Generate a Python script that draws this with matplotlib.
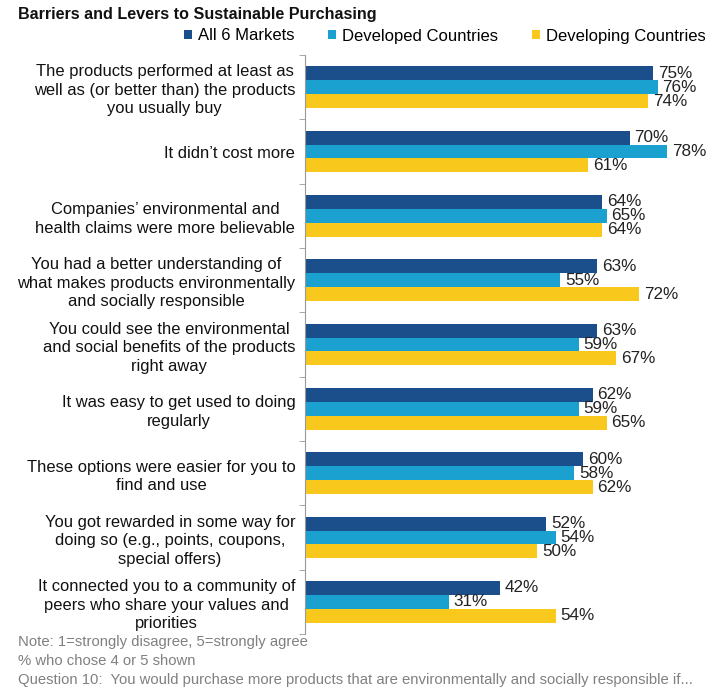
import matplotlib
matplotlib.use("Agg")
import matplotlib.pyplot as plt
import numpy as np

plt.rcParams['font.family'] = ['Liberation Sans', 'DejaVu Sans']

categories = [
    "The products performed at least as\nwell as (or better than) the products\nyou usually buy",
    "It didn\u2019t cost more",
    "Companies\u2019 environmental and\nhealth claims were more believable",
    "You had a better understanding of\nwhat makes products environmentally\nand socially responsible",
    "You could see the environmental\nand social benefits of the products\nright away",
    "It was easy to get used to doing\nregularly",
    "These options were easier for you to\nfind and use",
    "You got rewarded in some way for\ndoing so (e.g., points, coupons,\nspecial offers)",
    "It connected you to a community of\npeers who share your values and\npriorities",
]
series_names = ["All 6 Markets", "Developed Countries", "Developing Countries"]
all_markets = [75, 70, 64, 63, 63, 62, 60, 52, 42]
developed = [76, 78, 65, 55, 59, 59, 58, 54, 31]
developing = [74, 61, 64, 72, 67, 65, 62, 50, 54]
colors = ["#1B4F8C", "#1BA1CF", "#F8C81C"]

fig = plt.figure(figsize=(7.10, 6.89), dpi=100)
ax = fig.add_axes([305/710, 1-634/689, 405/710, (634-55)/689])

y = np.arange(len(categories))
h = 0.217
series = [all_markets, developed, developing]
for k, (vals, col, name) in enumerate(zip(series, colors, series_names)):
    pos = y + (k - 1) * h
    ax.barh(pos, vals, height=h, color=col, label=name)
    for p, v in zip(pos, vals):
        ax.annotate(f"{v}%", (v, p), xytext=(3.5, 0), textcoords="offset points",
                    va="center", ha="left", fontsize=12.3, color="#222222")

ax.set_xlim(0, 87.3)
ax.set_ylim(len(categories) - 0.5, -0.5)
ax.set_yticks(y)
ax.set_yticklabels(categories, fontsize=11.9, color="#111111", multialignment="center",
                   linespacing=1.28)
ax.tick_params(axis="y", which="major", length=0, pad=7)
ax.set_yticks(np.arange(-0.5, len(categories) + 0.5, 1), minor=True)
ax.tick_params(axis="y", which="minor", length=4, color="#999999", direction="out")
ax.set_xticks([])
for s in ["top", "right", "bottom"]:
    ax.spines[s].set_visible(False)
ax.spines["left"].set_color("#999999")
ax.spines["left"].set_linewidth(0.8)

fig.text(18/710, 1-14/689, "Barriers and Levers to Sustainable Purchasing",
         fontsize=11.6, fontweight="bold", va="center", ha="left", color="#111111")

handles, labels = ax.get_legend_handles_labels()
fig.legend(handles, labels, loc="center left", bbox_to_anchor=(184/710, 1-36/689),
           ncol=3, frameon=False, fontsize=12, handlelength=0.5, handleheight=0.5,
           handletextpad=0.35, columnspacing=2.0, borderpad=0, borderaxespad=0)

notes = ["Note: 1=strongly disagree, 5=strongly agree",
         "% who chose 4 or 5 shown",
         "Question 10:  You would purchase more products that are environmentally and socially responsible if..."]
for i, t in enumerate(notes):
    fig.text(18/710, 1-(642+19*i)/689, t, fontsize=10.7, color="#808080", va="center", ha="left")

fig.savefig("out.png", dpi=100)
